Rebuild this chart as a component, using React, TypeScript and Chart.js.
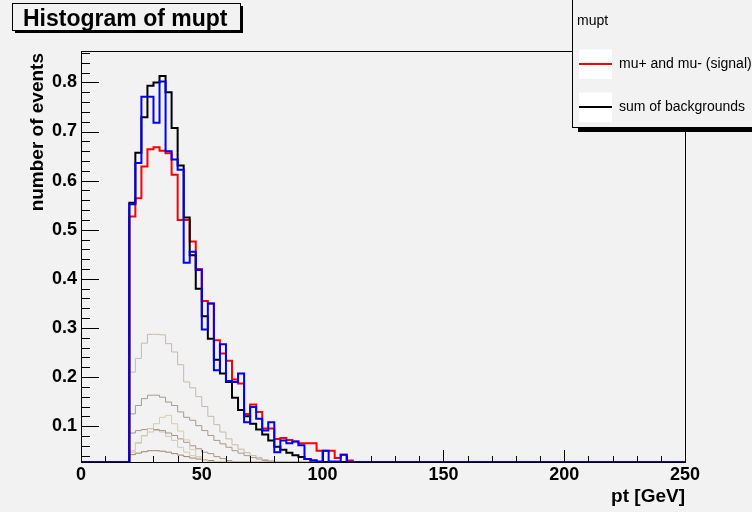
import React, { useEffect, useRef } from "react";
import { Chart, registerables } from "chart.js";

Chart.register(...registerables);

// ---- axis settings ----
const BIN_WIDTH = 2.5; // GeV
const X_MIN = 0;
const X_MAX = 250;
const Y_MIN = 0.027;
const Y_MAX = 0.864;
const FIRST_FILLED_EDGE = 20; // GeV, left edge of first non-empty bin

const xTickValues = [0, 50, 100, 150, 200, 250];
const xTickLabels = ["0", "50", "100", "150", "200", "250"];
const yTickValues = [0.1, 0.2, 0.3, 0.4, 0.5, 0.6, 0.7, 0.8];
const yTickLabels = ["0.1", "0.2", "0.3", "0.4", "0.5", "0.6", "0.7", "0.8"];

// ---- series (bin contents from 20 GeV upward, 2.5 GeV bins) ----
const signal = [
  0.527, 0.564, 0.629, 0.664, 0.668, 0.661, 0.656, 0.612, 0.52, 0.52,
  0.476, 0.42, 0.355, 0.35, 0.275, 0.248, 0.233, 0.195, 0.187, 0.125,
  0.144, 0.129, 0.095, 0.095, 0.074, 0.076, 0.072, 0.069, 0.065, 0.065,
  0.065, 0.05, 0.05, 0.05, 0.035, 0.042, 0.03,
];
const sumOfBackgrounds = [
  0.555, 0.657, 0.729, 0.793, 0.8, 0.813, 0.78, 0.707, 0.631, 0.525,
  0.448, 0.38, 0.324, 0.278, 0.235, 0.207, 0.19, 0.158, 0.133, 0.12,
  0.105, 0.093, 0.083, 0.071, 0.058, 0.052, 0.046, 0.041, 0.037, 0.033,
  0.03,
];
const blueHist = [
  0.552, 0.636, 0.771, 0.771, 0.718, 0.802, 0.66, 0.643, 0.622, 0.433,
  0.455, 0.418, 0.297, 0.35, 0.214, 0.267, 0.192, 0.19, 0.207, 0.108,
  0.139, 0.115, 0.091, 0.108, 0.047, 0.071, 0.065, 0.069, 0.061, 0.033,
  0.03, 0.028, 0.05, 0.028, 0.028, 0.042,
];
const bgA = [
  0.21, 0.238, 0.269, 0.287, 0.287, 0.286, 0.268, 0.251, 0.225, 0.19,
  0.178, 0.16, 0.14, 0.12, 0.103, 0.088, 0.074, 0.062, 0.053, 0.046,
  0.04, 0.036, 0.032, 0.03,
];
const bgB = [
  0.125, 0.142, 0.156, 0.163, 0.163, 0.159, 0.149, 0.142, 0.129, 0.118,
  0.112, 0.101, 0.091, 0.081, 0.071, 0.064, 0.057, 0.05, 0.045, 0.04,
  0.036, 0.033, 0.03,
];
const bgC = [
  0.05, 0.065, 0.08, 0.095, 0.105, 0.118, 0.122, 0.105, 0.09, 0.072,
  0.052, 0.038, 0.03,
];
const bgD = [
  0.086, 0.091, 0.093, 0.095, 0.093, 0.091, 0.086, 0.081, 0.074, 0.067,
  0.06, 0.054, 0.047, 0.044, 0.038, 0.034, 0.03,
];
const bgE = [
  0.047, 0.067, 0.081, 0.088, 0.091, 0.088, 0.079, 0.071, 0.057, 0.047,
  0.04, 0.035, 0.03,
];
const bgF = [
  0.042, 0.045, 0.048, 0.05, 0.05, 0.049, 0.047, 0.044, 0.041, 0.038,
  0.035, 0.033, 0.031, 0.03,
];

const FONT = "'Liberation Sans', Arial, Helvetica, sans-serif";
const BG = "#f2f2f2";

function toPoints(vals: number[]) {
  const nBins = Math.round((X_MAX - X_MIN) / BIN_WIDTH);
  const offset = Math.round((FIRST_FILLED_EDGE - X_MIN) / BIN_WIDTH);
  const full: number[] = [];
  for (let i = 0; i < nBins; i++) {
    const j = i - offset;
    full.push(j >= 0 && j < vals.length ? vals[j] : 0);
  }
  const pts = full.map((v, i) => ({ x: X_MIN + i * BIN_WIDTH, y: Math.max(v, Y_MIN) }));
  pts.push({ x: X_MAX, y: Math.max(full[nBins - 1], Y_MIN) });
  return pts;
}

function ds(label: string, vals: number[], color: string, width: number) {
  return {
    label,
    data: toPoints(vals),
    borderColor: color,
    backgroundColor: color,
    borderWidth: width,
    stepped: "before" as const,
    pointRadius: 0,
    fill: false,
    borderJoinStyle: "miter" as const,
    borderCapStyle: "butt" as const,
  };
}

const decorPlugin = {
  id: "rootDecor",
  beforeDraw(chart: any) {
    const ctx = chart.ctx;
    ctx.save();
    ctx.fillStyle = BG;
    ctx.fillRect(0, 0, chart.width, chart.height);
    ctx.restore();
  },
  afterDatasetsDraw(chart: any) {
    const ctx = chart.ctx;
    const { left, right, top, bottom } = chart.chartArea;
    const xs = chart.scales.x;
    const ys = chart.scales.y;
    ctx.save();
    ctx.strokeStyle = "#000";
    ctx.lineWidth = 1;
    ctx.strokeRect(Math.round(left) + 0.5, Math.round(top) + 0.5, Math.round(right - left), Math.round(bottom - top));
    ctx.beginPath();
    for (let v = X_MIN; v <= X_MAX + 1e-9; v += 10) {
      const px = Math.round(xs.getPixelForValue(v)) + 0.5;
      const len = v % 50 === 0 ? 12 : 6;
      ctx.moveTo(px, bottom);
      ctx.lineTo(px, bottom - len);
    }
    for (let k = 2; k * 0.02 <= Y_MAX; k++) {
      const v = k * 0.02;
      if (v < Y_MIN) continue;
      const py = Math.round(ys.getPixelForValue(v)) + 0.5;
      const len = k % 5 === 0 ? 18 : 9;
      ctx.moveTo(left, py);
      ctx.lineTo(left + len, py);
    }
    ctx.stroke();
    ctx.restore();
  },
  afterDraw(chart: any) {
    const ctx = chart.ctx;
    const { right, top } = chart.chartArea;
    ctx.save();
    ctx.fillStyle = "#000";
    ctx.font = `bold 19px ${FONT}`;
    ctx.textAlign = "right";
    ctx.textBaseline = "alphabetic";
    ctx.fillText("pt [GeV]", right, 502);
    ctx.save();
    ctx.translate(43, top + 2);
    ctx.rotate(-Math.PI / 2);
    ctx.fillText("number of events", 0, 0);
    ctx.restore();

    // title box
    ctx.fillStyle = "#000";
    ctx.fillRect(15, 30.5, 228, 2.5);
    ctx.fillRect(240.5, 6, 2.5, 27);
    ctx.fillStyle = BG;
    ctx.fillRect(12.5, 3.5, 228, 27);
    ctx.strokeStyle = "#000";
    ctx.lineWidth = 1;
    ctx.strokeRect(12.5, 3.5, 228, 27);
    ctx.fillStyle = "#000";
    ctx.font = `bold 23px ${FONT}`;
    ctx.textAlign = "left";
    ctx.fillText("Histogram of mupt", 23, 26);

    // legend
    ctx.fillStyle = "#000";
    ctx.fillRect(578, 128, 180, 4);
    ctx.fillStyle = BG;
    ctx.fillRect(572.5, -2, 190, 129.5);
    ctx.strokeRect(572.5, -2, 190, 129.5);
    ctx.fillStyle = "#000";
    ctx.font = `14px ${FONT}`;
    ctx.textAlign = "left";
    ctx.fillText("mupt", 577, 25);
    const entries = [
      { label: "mu+ and mu- (signal)", color: "#ff0000", y: 64 },
      { label: "sum of backgrounds", color: "#000000", y: 107 },
    ];
    for (const e of entries) {
      ctx.fillStyle = "#ffffff";
      ctx.fillRect(579, e.y - 14.5, 33, 29.5);
      ctx.strokeStyle = e.color;
      ctx.lineWidth = 2;
      ctx.beginPath();
      ctx.moveTo(579, e.y);
      ctx.lineTo(612, e.y);
      ctx.stroke();
      ctx.fillStyle = "#000";
      ctx.textBaseline = "middle";
      ctx.fillText(e.label, 619, e.y);
    }
    ctx.restore();
  },
};

export default function App() {
  const canvasRef = useRef<HTMLCanvasElement | null>(null);

  useEffect(() => {
    document.body.style.margin = "0";
    const canvas = canvasRef.current;
    if (!canvas) return;
    const tickFont = { family: FONT, size: 18, weight: "bold" as const };
    const chart = new Chart(canvas, {
      type: "line",
      data: {
        datasets: [
          ds("blue", blueHist, "#0000ff", 2),
          ds("sum of backgrounds", sumOfBackgrounds, "#000000", 2),
          ds("mu+ and mu- (signal)", signal, "#ff0000", 2),
          ds("bgA", bgA, "#c6baa6", 1),
          ds("bgB", bgB, "#a89a8c", 1),
          ds("bgC", bgC, "#d6cfa0", 1),
          ds("bgD", bgD, "#b09088", 1),
          ds("bgE", bgE, "#cfcab4", 1),
          ds("bgF", bgF, "#a08070", 1),
        ],
      },
      options: {
        animation: false,
        responsive: false,
        maintainAspectRatio: false,
        layout: { padding: { left: 21, right: 67, top: 51, bottom: 10 } },
        plugins: {
          legend: { display: false },
          tooltip: { enabled: false },
          title: { display: false },
        },
        elements: { point: { radius: 0 }, line: { tension: 0 } },
        scales: {
          x: {
            type: "linear",
            min: X_MIN,
            max: X_MAX,
            afterFit: (s: any) => {
              s.height = 40;
            },
            afterBuildTicks: (s: any) => {
              s.ticks = xTickValues.map((v) => ({ value: v }));
            },
            grid: { display: false, drawTicks: false },
            border: { display: false },
            ticks: {
              color: "#000",
              font: tickFont,
              padding: 2,
              maxRotation: 0,
              autoSkip: false,
              callback: (v: any) => {
                const i = xTickValues.indexOf(Number(v));
                return i >= 0 ? xTickLabels[i] : "";
              },
            },
          },
          y: {
            type: "linear",
            min: Y_MIN,
            max: Y_MAX,
            afterFit: (s: any) => {
              s.width = 60;
            },
            afterBuildTicks: (s: any) => {
              s.ticks = yTickValues.map((v) => ({ value: v }));
            },
            grid: { display: false, drawTicks: false },
            border: { display: false },
            ticks: {
              color: "#000",
              font: tickFont,
              padding: 4,
              autoSkip: false,
              callback: (v: any) => {
                const i = yTickValues.findIndex((t) => Math.abs(t - Number(v)) < 1e-9);
                return i >= 0 ? yTickLabels[i] : "";
              },
            },
          },
        },
      },
      plugins: [decorPlugin],
    });
    return () => chart.destroy();
  }, []);

  return (
    <div style={{ width: 752, height: 512, position: "relative" }}>
      <canvas ref={canvasRef} width={752} height={512} style={{ display: "block" }} />
    </div>
  );
}
